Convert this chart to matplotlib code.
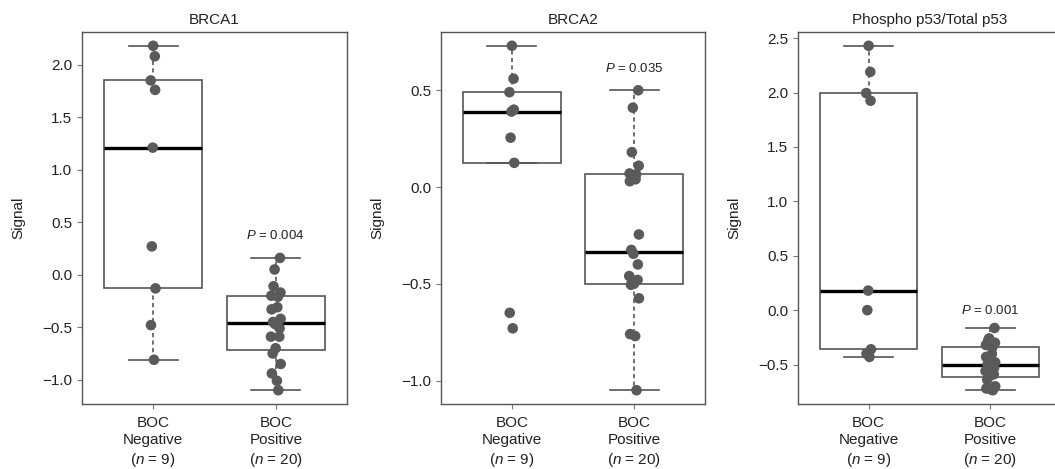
import numpy as np
import matplotlib
matplotlib.use("Agg")
import matplotlib.pyplot as plt

plt.rcParams['font.family'] = ['Liberation Sans', 'DejaVu Sans']
plt.rcParams['mathtext.fontset'] = 'custom'
plt.rcParams['mathtext.rm'] = 'Liberation Sans'
plt.rcParams['mathtext.it'] = 'Liberation Sans:italic'

# ---- data ----
categories = ["BOC\nNegative\n($n$ = 9)", "BOC\nPositive\n($n$ = 20)"]
titles = ["BRCA1", "BRCA2", "Phospho p53/Total p53"]
p_labels = ["$P$ = 0.004", "$P$ = 0.035", "$P$ = 0.001"]

brca1_neg = [2.18, 2.08, 1.85, 1.76, 1.21, 0.27, -0.13, -0.48, -0.81]
brca1_pos = [0.16, 0.05, -0.11, -0.17, -0.20, -0.21, -0.31, -0.33, -0.42, -0.45,
             -0.47, -0.51, -0.59, -0.59, -0.70, -0.75, -0.85, -0.94, -1.01, -1.10]

brca2_neg = [0.73, 0.56, 0.49, 0.40, 0.39, 0.255, 0.125, -0.65, -0.73]
brca2_pos = [0.50, 0.41, 0.18, 0.11, 0.07, 0.065, 0.04, 0.03, -0.245, -0.325,
             -0.345, -0.40, -0.46, -0.48, -0.50, -0.505, -0.575, -0.76, -0.77, -1.05]

phos_neg = [2.43, 2.19, 1.995, 1.925, 0.18, 0.0, -0.36, -0.40, -0.43]
phos_pos = [-0.164, -0.26, -0.28, -0.30, -0.32, -0.34, -0.40, -0.43, -0.48, -0.50,
            -0.51, -0.53, -0.56, -0.59, -0.60, -0.64, -0.70, -0.72, -0.73, -0.736]

p_y = [0.37, 0.61, 0.0]

yticks = [np.arange(-1.0, 2.01, 0.5), np.arange(-1.0, 0.51, 0.5), np.arange(-0.5, 2.51, 0.5)]

panels = [(brca1_neg, brca1_pos), (brca2_neg, brca2_pos), (phos_neg, phos_pos)]

# ---- layout ----
W, H = 1055, 469
fig = plt.figure(figsize=(W / 100, H / 100), dpi=100)
rects_px = [(82, 32, 347, 404), (441, 32, 705, 404), (798, 32, 1061, 404)]

edge = '#555555'
pt_col = '#5a5a5a'
text_col = '#222222'

for i, (ax_px, (neg, pos)) in enumerate(zip(rects_px, panels)):
    l, t, r, b = ax_px
    ax = fig.add_axes([l / W, 1 - b / H, (r - l) / W, (b - t) / H])
    data = [neg, pos]
    ax.boxplot(data, positions=[1, 2], widths=0.8, capwidths=0.4,
               patch_artist=True, showfliers=False,
               boxprops=dict(facecolor='white', edgecolor=edge, linewidth=1.2),
               whiskerprops=dict(color=edge, linewidth=1.2, linestyle=(0, (2.5, 2))),
               capprops=dict(color=edge, linewidth=1.2),
               medianprops=dict(color='black', linewidth=2.4))
    for k, vals in enumerate(data):
        n = len(vals)
        amp = 0.02 if n < 10 else 0.04
        jit = amp * np.sin(np.arange(n) * 2.39996 + k)
        ax.scatter(np.full(n, k + 1) + jit, vals, s=58, color=pt_col,
                   edgecolors='none', zorder=4)
    allv = np.concatenate([neg, pos])
    lo, hi = allv.min(), allv.max()
    rng = hi - lo
    ax.set_ylim(lo - 0.04 * rng, hi + 0.04 * rng)
    ax.set_xlim(0.42, 2.58)
    ax.set_yticks(yticks[i])
    ax.set_yticklabels([f"{v:.1f}".replace('-', '\u2212') for v in yticks[i]])
    ax.set_xticks([1, 2])
    ax.set_xticklabels(categories, linespacing=1.3)
    ax.tick_params(axis='both', colors='#777777', labelcolor=text_col,
                   labelsize=11, length=3.5, width=0.8, direction='out')
    ax.tick_params(axis='x', pad=5)
    for s in ax.spines.values():
        s.set_color('#555555')
        s.set_linewidth(1.0)
    ax.set_title(titles[i], fontsize=11, color=text_col, pad=6)
    ax.set_ylabel("Signal", fontsize=11, color=text_col)
    ax.yaxis.set_label_coords(-0.215, 0.5)
    ax.text(2, p_y[i], p_labels[i], ha='center', va='center',
            fontsize=9.5, color=text_col)

fig.savefig("out.png", dpi=100)
